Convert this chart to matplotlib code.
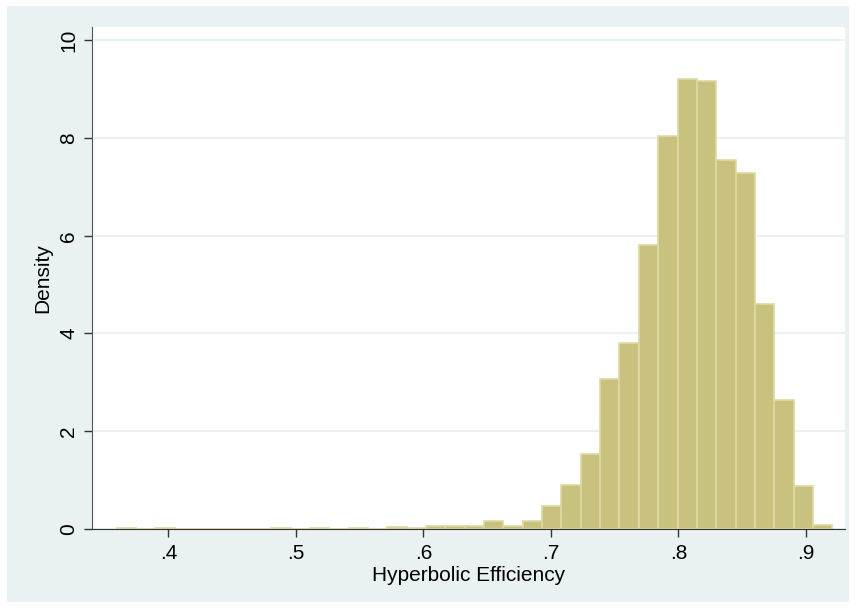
import matplotlib
matplotlib.use('Agg')
import matplotlib.pyplot as plt
from matplotlib.patches import Rectangle

# histogram of hyperbolic efficiency (density scale), 37 bins
bin_start = 0.3593
bin_width = 0.01517
density = [0.015, 0, 0.013, 0, 0, 0, 0, 0, 0.013, 0,
           0.013, 0, 0.02, 0, 0.04, 0.026, 0.066, 0.066, 0.066, 0.17,
           0.053, 0.17, 0.47, 0.90, 1.53, 3.06, 3.80, 5.80, 8.04, 9.21,
           9.17, 7.54, 7.28, 4.60, 2.64, 0.87, 0.09]
lefts = [bin_start + i * bin_width for i in range(len(density))]

xticks = [0.4, 0.5, 0.6, 0.7, 0.8, 0.9]
xticklabels = ['.4', '.5', '.6', '.7', '.8', '.9']
yticks = [0, 2, 4, 6, 8, 10]

plt.rcParams['font.family'] = ['Liberation Sans', 'DejaVu Sans']

fig = plt.figure(figsize=(8.56, 6.08), dpi=100)
fig.patch.set_facecolor('white')
# stata-style light blue-gray graph region
fig.patches.append(Rectangle((7 / 856, 6 / 608), 842 / 856, 596 / 608,
                             transform=fig.transFigure, facecolor='#eaf1f3',
                             edgecolor='none', zorder=-5))

ax = fig.add_axes([92 / 856, 79 / 608, 753 / 856, 502 / 608])
ax.set_zorder(1)
ax.set_facecolor('white')
ax.bar(lefts, density, width=bin_width, align='edge', color='#c9c27f',
       edgecolor='#ddd9a3', linewidth=1.2, zorder=2)

ax.set_xlim(0.340, 0.9306)
ax.set_ylim(0, 10.27)
ax.set_xticks(xticks)
ax.set_xticklabels(xticklabels)
ax.set_yticks(yticks)
ax.set_yticklabels([str(v) for v in yticks], rotation=90, va='center')
ax.yaxis.grid(True, color='#eaf1f3', linewidth=1.5, zorder=0)
ax.set_axisbelow(True)

for s in ['top', 'right']:
    ax.spines[s].set_visible(False)
ax.spines['left'].set_color('#555555')
ax.spines['bottom'].set_color('#333333')
ax.tick_params(axis='both', colors='#333333', length=6, width=1,
               labelsize=15, labelcolor='black')
ax.tick_params(axis='x', pad=5)
ax.tick_params(axis='y', pad=4)

ax.set_xlabel('Hyperbolic Efficiency', fontsize=15, labelpad=2)
ax.set_ylabel('Density', fontsize=15, labelpad=5)

fig.savefig('out.png', dpi=100)
